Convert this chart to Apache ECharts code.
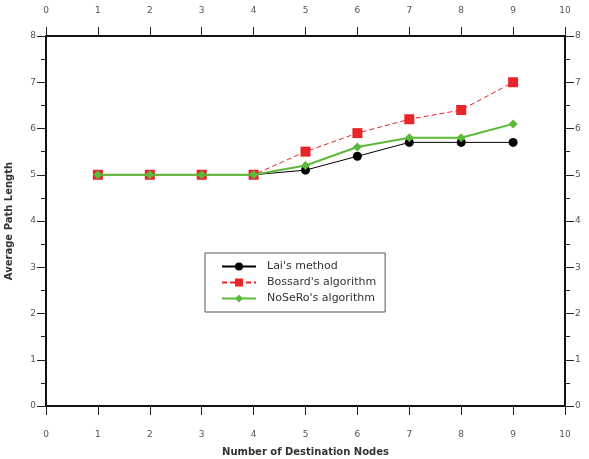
<!DOCTYPE html>
<html><head><meta charset="utf-8">
<script src="https://cdn.jsdelivr.net/npm/echarts@6/dist/echarts.min.js"></script>
<style>html,body{margin:0;padding:0;background:#fff}#c{width:589px;height:459px}</style>
</head><body><div id="c"></div>
<script>
const xValues = [1, 2, 3, 4, 5, 6, 7, 8, 9];
const laiMethod = [5, 5, 5, 5, 5.1, 5.4, 5.7, 5.7, 5.7];
const bossardAlg = [5, 5, 5, 5, 5.5, 5.9, 6.2, 6.4, 7.0];
const noseroAlg = [5, 5, 5, 5, 5.2, 5.6, 5.8, 5.8, 6.1];
const seriesNames = ["Lai's method", "Bossard's algorithm", "NoSeRo's algorithm"];

const pair = arr => xValues.map((x, i) => [x, arr[i]]);
const chart = echarts.init(document.getElementById('c'));
const lblStyle = {color: '#555', fontSize: 9, fontFamily: 'DejaVu Sans'};
const xBase = (pos, margin) => ({
  type: 'value', min: 0, max: 10, interval: 1, position: pos,
  axisLine: {show: true, onZero: false, lineStyle: {color: '#111', width: 2}},
  axisTick: {show: true, length: 9, lineStyle: {color: '#222', width: 1}},
  splitLine: {show: false},
  axisLabel: Object.assign({margin: margin}, lblStyle)
});
const yBase = (pos, margin) => ({
  type: 'value', min: 0, max: 8, interval: 1, position: pos,
  axisLine: {show: true, onZero: false, lineStyle: {color: '#111', width: 2}},
  axisTick: {show: true, length: 9, lineStyle: {color: '#222', width: 1}},
  minorTick: {show: true, splitNumber: 2, length: 5, lineStyle: {color: '#222', width: 1}},
  splitLine: {show: false},
  axisLabel: Object.assign({margin: margin}, lblStyle)
});
const xBottom = xBase('bottom', 24);
xBottom.name = 'Number of Destination Nodes';
xBottom.nameLocation = 'middle';
xBottom.nameGap = 41;
xBottom.nameTextStyle = {color: '#333', fontSize: 10, fontWeight: 'bold', fontFamily: 'DejaVu Sans'};
const yLeft = yBase('left', 10);
yLeft.name = 'Average Path Length';
yLeft.nameLocation = 'middle';
yLeft.nameGap = 32;
yLeft.nameTextStyle = {color: '#333', fontSize: 10, fontWeight: 'bold', fontFamily: 'DejaVu Sans'};

chart.setOption({
  animation: false,
  backgroundColor: '#fff',
  grid: {left: 46, right: 24, top: 36, bottom: 53, containLabel: false, outerBoundsMode: 'none'},
  xAxis: [xBottom, xBase('top', 21)],
  yAxis: [yLeft, yBase('right', 10)],
  legend: {
    orient: 'vertical', left: 205, top: 253,
    padding: [8, 9, 8, 16], itemGap: 5, itemWidth: 34, itemHeight: 10,
    borderColor: '#555', borderWidth: 1, backgroundColor: '#fff',
    textStyle: {color: '#333', fontSize: 11, fontFamily: 'DejaVu Sans', padding: [0, 0, 0, 6]},
    data: seriesNames
  },
  series: [
    {name: seriesNames[0], type: 'line', data: pair(laiMethod), symbol: 'circle', symbolSize: 9,
     itemStyle: {color: '#000'}, lineStyle: {color: '#000', width: 1}, z: 3},
    {name: seriesNames[1], type: 'line', data: pair(bossardAlg), symbol: 'rect', symbolSize: 10,
     itemStyle: {color: '#e8262a'}, lineStyle: {color: '#e8262a', width: 1, type: [5, 3]}, z: 4},
    {name: seriesNames[2], type: 'line', data: pair(noseroAlg), symbol: 'diamond', symbolSize: 9,
     itemStyle: {color: '#5cba3a'}, lineStyle: {color: '#5cba3a', width: 2}, z: 5}
  ]
});
</script></body></html>
